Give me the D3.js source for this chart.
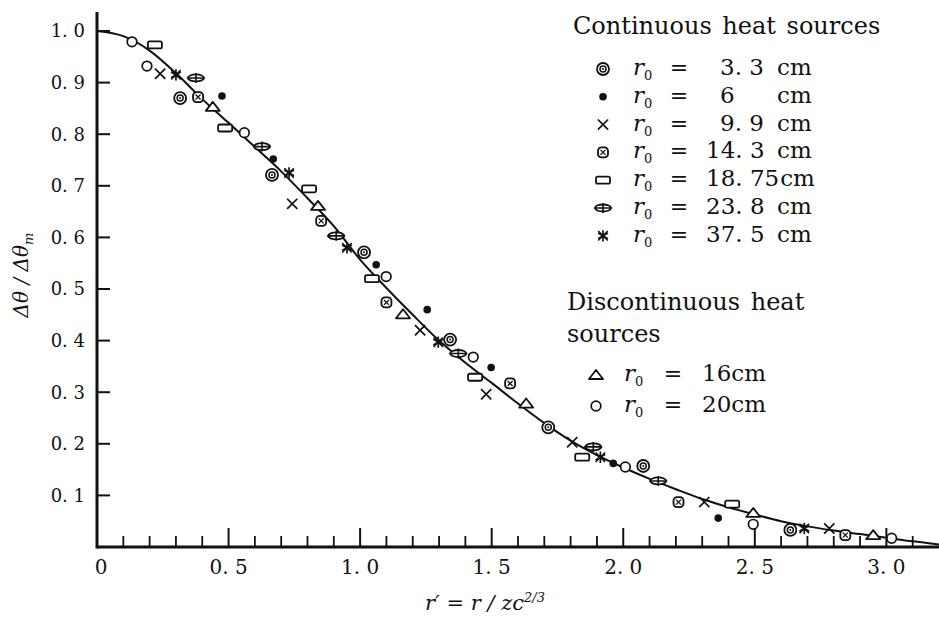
<!DOCTYPE html>
<html>
<head>
<meta charset="utf-8">
<script src="https://cdn.jsdelivr.net/npm/d3@7"></script>
<style>
  body { margin: 0; background: #fff; }
  svg { display: block; }
  text { font-family: "DejaVu Serif", "Liberation Serif", serif; fill: #111; }
</style>
</head>
<body>
<div id="chart"></div>
<script>
// data: dtheta/dtheta_m against r' = r/zc^(2/3)
var curveX = [0, 0.1, 0.2, 0.3, 0.4, 0.5, 0.6, 0.7, 0.8, 0.9, 1.0, 1.1, 1.2, 1.3, 1.4, 1.5, 1.6,
              1.7, 1.8, 1.9, 2.0, 2.1, 2.2, 2.3, 2.4, 2.5, 2.6, 2.7, 2.8, 2.9, 3.0, 3.1, 3.2];
var curveY = [1.0, 0.99, 0.962, 0.918, 0.868, 0.822, 0.775, 0.728, 0.676, 0.622, 0.557, 0.502, 0.45, 0.4,
              0.357, 0.318, 0.278, 0.24, 0.206, 0.178, 0.154, 0.132, 0.112, 0.093, 0.077, 0.063, 0.05,
              0.04, 0.032, 0.025, 0.018, 0.011, 0.005];

var r33x  = [0.316, 0.665, 1.015, 1.342, 1.715, 2.076, 2.635];
var r33y  = [0.870, 0.721, 0.571, 0.402, 0.232, 0.157, 0.033];
var r6x   = [0.475, 0.67, 1.061, 1.255, 1.498, 1.962, 2.361];
var r6y   = [0.874, 0.752, 0.547, 0.460, 0.348, 0.162, 0.056];
var r99x  = [0.24, 0.742, 1.228, 1.479, 1.806, 2.308, 2.783];
var r99y  = [0.917, 0.665, 0.420, 0.296, 0.203, 0.087, 0.036];
var r143x = [0.384, 0.852, 1.10, 1.570, 2.21, 2.844];
var r143y = [0.872, 0.632, 0.474, 0.317, 0.087, 0.023];
var r1875x = [0.22, 0.487, 0.806, 1.045, 1.437, 1.844, 2.414];
var r1875y = [0.973, 0.812, 0.694, 0.520, 0.329, 0.174, 0.083];
var r238x = [0.376, 0.627, 0.909, 1.373, 1.886, 2.133];
var r238y = [0.909, 0.776, 0.603, 0.375, 0.194, 0.128];
var r375x = [0.30, 0.73, 0.95, 1.297, 1.913, 2.688];
var r375y = [0.915, 0.725, 0.580, 0.397, 0.174, 0.036];
var r16x  = [0.44, 0.84, 1.163, 1.631, 2.494, 2.95];
var r16y  = [0.853, 0.661, 0.451, 0.278, 0.066, 0.023];
var r20x  = [0.133, 0.19, 0.56, 1.099, 1.43, 2.008, 2.494, 3.02];
var r20y  = [0.979, 0.932, 0.803, 0.524, 0.368, 0.155, 0.044, 0.017];

var contValues = ["3. 3", "6", "9. 9", "14. 3", "18. 75", "23. 8", "37. 5"];
var contShapes = ["dblcircle", "dot", "times", "xcircle", "rect", "oval", "asterisk"];
var discValues = ["16", "20"];
var discShapes = ["triangle", "circle"];

var xMajor = [0, 0.5, 1.0, 1.5, 2.0, 2.5, 3.0];
var xMinor = [0.1, 0.2, 0.3, 0.4, 0.6, 0.7, 0.8, 0.9, 1.1, 1.2, 1.3, 1.4, 1.6, 1.7, 1.8, 1.9,
              2.1, 2.2, 2.3, 2.4, 2.6, 2.7, 2.8, 2.9, 3.1];
var yTicks = [0.1, 0.2, 0.3, 0.4, 0.5, 0.6, 0.7, 0.8, 0.9, 1.0];

var W = 939, H = 618;
var x = d3.scaleLinear().domain([0, 3.2]).range([97, 939]);
var y = d3.scaleLinear().domain([0, 1]).range([547, 31]);

var svg = d3.select("#chart").append("svg")
  .attr("width", W).attr("height", H);

function fmt(d) { return d === 0 ? "0" : d.toFixed(1).replace(".", ". "); }

// tick labels
svg.append("g").selectAll("text").data(xMajor).enter().append("text")
  .attr("x", function(d) { return x(d) + (d === 0 ? 4 : 0); }).attr("y", 574)
  .attr("text-anchor", "middle").style("font-size", "20px").text(fmt);
svg.append("g").selectAll("text").data(yTicks).enter().append("text")
  .attr("x", 85).attr("y", function(d) { return y(d); }).attr("dy", "0.36em")
  .attr("text-anchor", "end").style("font-size", "18px").text(fmt);

// fitted curve
var line = d3.line().x(function(d, i) { return x(curveX[i]); }).y(function(d) { return y(d); })
  .curve(d3.curveMonotoneX);
svg.append("path").attr("d", line(curveY))
  .attr("fill", "none").attr("stroke", "#111").attr("stroke-width", 2);

// marker drawing
function marker(g, shape) {
  var s = "#111";
  if (shape === "dblcircle") {
    g.append("circle").attr("r", 6).attr("fill", "#fff").attr("stroke", s).attr("stroke-width", 1.8);
    g.append("circle").attr("r", 3).attr("fill", "none").attr("stroke", s).attr("stroke-width", 1.5);
    g.append("circle").attr("r", 1).attr("fill", s);
  } else if (shape === "dot") {
    g.append("circle").attr("r", 3.8).attr("fill", s);
  } else if (shape === "times") {
    g.append("path").attr("d", d3.symbol(d3.symbolTimes, 70)()).attr("fill", "none")
      .attr("stroke", s).attr("stroke-width", 1.7);
  } else if (shape === "xcircle") {
    g.append("rect").attr("x", -5).attr("y", -5).attr("width", 10).attr("height", 10).attr("rx", 3.5)
      .attr("fill", "#fff").attr("stroke", s).attr("stroke-width", 1.8);
    g.append("path").attr("d", d3.symbol(d3.symbolTimes, 18)()).attr("fill", "none")
      .attr("stroke", s).attr("stroke-width", 1.3);
  } else if (shape === "rect") {
    g.append("rect").attr("x", -7).attr("y", -3.5).attr("width", 14).attr("height", 7).attr("rx", 1.5)
      .attr("fill", "#fff").attr("stroke", s).attr("stroke-width", 1.8);
  } else if (shape === "oval") {
    g.append("ellipse").attr("rx", 8).attr("ry", 3.5).attr("fill", "#fff")
      .attr("stroke", s).attr("stroke-width", 1.8);
    g.append("path").attr("d", "M-9,0H9M0,-5V5").attr("fill", "none")
      .attr("stroke", s).attr("stroke-width", 1.6);
  } else if (shape === "asterisk") {
    g.append("path").attr("d", d3.symbol(d3.symbolAsterisk, 90)()).attr("fill", "none")
      .attr("stroke", s).attr("stroke-width", 1.7);
    g.append("path").attr("d", d3.symbol(d3.symbolTimes, 60)()).attr("fill", "none")
      .attr("stroke", s).attr("stroke-width", 1.5);
  } else if (shape === "triangle") {
    g.append("path").attr("d", "M-7,4L0,-5L7,4Z").attr("fill", "#fff")
      .attr("stroke", s).attr("stroke-width", 1.8).attr("stroke-linejoin", "round");
  } else if (shape === "circle") {
    g.append("circle").attr("r", 4.8).attr("fill", "#fff").attr("stroke", s).attr("stroke-width", 1.7);
  }
}

var series = [
  [r33x, r33y, "dblcircle"], [r6x, r6y, "dot"], [r99x, r99y, "times"], [r143x, r143y, "xcircle"],
  [r1875x, r1875y, "rect"], [r238x, r238y, "oval"], [r375x, r375y, "asterisk"],
  [r16x, r16y, "triangle"], [r20x, r20y, "circle"]
];
series.forEach(function(sr) {
  svg.append("g").selectAll("g").data(sr[0]).enter().append("g")
    .attr("transform", function(d, i) { return "translate(" + x(d) + "," + y(sr[1][i]) + ")"; })
    .each(function() { marker(d3.select(this), sr[2]); });
});

// legend
svg.append("text").attr("x", 573).attr("y", 34).style("font-size", "24px")
  .style("word-spacing", "3px").text("Continuous heat sources");

function legendRow(yb, xm, xr, xe, xv, shape, val, joinCm) {
  var g = svg.append("g");
  marker(g.append("g").attr("transform", "translate(" + xm + "," + (yb - 6) + ")"), shape);
  var t = g.append("text").attr("x", xr).attr("y", yb).style("font-size", "23px").style("font-style", "italic");
  t.append("tspan").text("r");
  t.append("tspan").attr("dy", 5).style("font-size", "13px").style("font-style", "normal").text("0");
  g.append("text").attr("x", xe).attr("y", yb).attr("text-anchor", "middle").style("font-size", "22px").text("=");
  var v = g.append("text").attr("x", xv).attr("y", yb).style("font-size", "23px").text(joinCm ? val + "cm" : val);
  if (!joinCm) {
    var end = xv + v.node().getComputedTextLength();
    g.append("text").attr("x", Math.max(777, end + 1)).attr("y", yb).style("font-size", "23px").text("cm");
  }
}
contValues.forEach(function(v, i) {
  var intDigits = v.split(".")[0].trim().length;
  legendRow(75 + i * 27.8, 603, 633, 679, intDigits > 1 ? 706 : 720, contShapes[i], v, false);
});

svg.append("text").attr("x", 567).attr("y", 310).style("font-size", "24px")
  .style("word-spacing", "3px").text("Discontinuous heat");
svg.append("text").attr("x", 567).attr("y", 342).style("font-size", "24px").text("sources");
discValues.forEach(function(v, i) {
  legendRow(381 + i * 31, 596, 624, 673, 702, discShapes[i], v, true);
});

// axis titles
var xt = svg.append("text").attr("x", 485).attr("y", 610).attr("text-anchor", "middle")
  .style("font-size", "21px").style("font-style", "italic");
xt.append("tspan").text("r\u2032 = r / zc");
xt.append("tspan").attr("dy", -8).style("font-size", "13px").text("2/3");

var yt = svg.append("text").attr("transform", "translate(28,275) rotate(-90)").attr("text-anchor", "middle")
  .style("font-size", "20px").style("font-style", "italic");
yt.append("tspan").text("\u0394\u03b8 / \u0394\u03b8");
yt.append("tspan").attr("dy", 5).style("font-size", "13px").text("m");

// tick marks pointing inward, then the heavy axis lines on top
var tickColor = "#111";
svg.append("g").selectAll("line").data(xMajor).enter().append("line")
  .attr("x1", function(d) { return x(d); }).attr("x2", function(d) { return x(d); })
  .attr("y1", y(0)).attr("y2", y(0) - 19)
  .attr("stroke", tickColor).attr("stroke-width", 2);
svg.append("g").selectAll("line").data(xMinor).enter().append("line")
  .attr("x1", function(d) { return x(d); }).attr("x2", function(d) { return x(d); })
  .attr("y1", y(0)).attr("y2", y(0) - 11)
  .attr("stroke", tickColor).attr("stroke-width", 1.8);
svg.append("g").selectAll("line").data(yTicks).enter().append("line")
  .attr("x1", x(0)).attr("x2", x(0) + 13)
  .attr("y1", function(d) { return y(d); }).attr("y2", function(d) { return y(d); })
  .attr("stroke", tickColor).attr("stroke-width", 2);

svg.append("line").attr("x1", x(0)).attr("x2", x(0)).attr("y1", 12).attr("y2", y(0) + 1.5)
  .attr("stroke", "#111").attr("stroke-width", 3);
svg.append("line").attr("x1", x(0)).attr("x2", W).attr("y1", y(0)).attr("y2", y(0))
  .attr("stroke", "#111").attr("stroke-width", 3);
</script>
</body>
</html>
